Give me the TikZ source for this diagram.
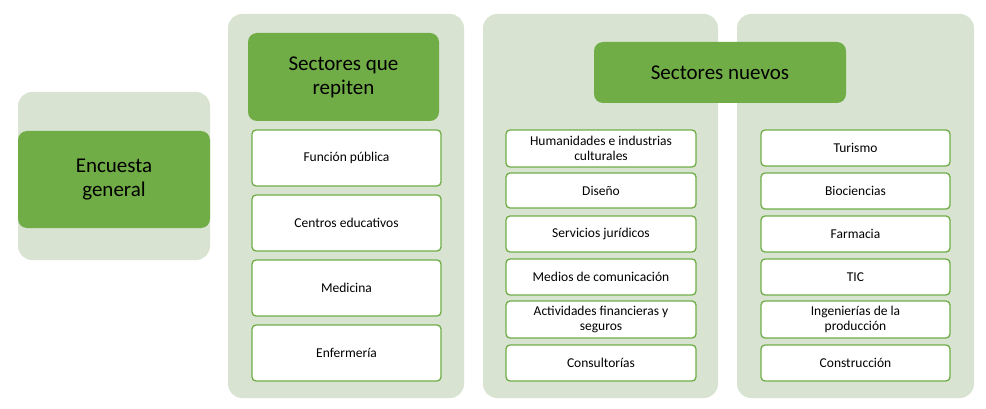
\documentclass[tikz,border=0pt]{standalone}
\usepackage{fontspec}
\setmainfont{Carlito}
\definecolor{bgg}{HTML}{D8E3D1}
\definecolor{gg}{HTML}{70AD47}
\begin{document}
\begin{tikzpicture}[x=1pt,y=-1pt,
  panel/.style={fill=bgg,draw=none,rounded corners=14pt},
  head/.style={fill=gg,draw=none,rounded corners=9pt,font=\fontsize{21}{24}\selectfont,align=center},
  item/.style={fill=white,draw=gg,line width=1.3pt,rounded corners=4pt,font=\fontsize{13.5}{15}\selectfont,align=center}]
\useasboundingbox (0,0) rectangle (986,409);
\fill[panel] (18,92) rectangle (210,260);
\fill[panel] (228,14) rectangle (464,398);
\fill[panel] (483,14) rectangle (718,398);
\fill[panel] (737,14) rectangle (974,398);
\node[head,minimum width=192pt,minimum height=97pt] (eg) at (114,179.5) {Encuesta\\general};
\node[head,minimum width=191pt,minimum height=88pt] (sr) at (343.5,77) {Sectores que\\repiten};
\node[head,minimum width=252pt,minimum height=61pt] (sn) at (720,72.5) {Sectores nuevos};
\foreach \n/\t/\a/\b in {r1/Función pública/130/186, r2/Centros educativos/195/251, r3/Medicina/260/316, r4/Enfermería/325/381}
  \node[item,minimum width=189pt,minimum height={\b-\a}] (\n) at (346.5,{(\a+\b)/2}) {\t};
\foreach \n/\t/\a/\b in {a1/{Humanidades e industrias\\culturales}/130/167, a2/Diseño/173/208, a3/Servicios jurídicos/216/252, a4/Medios de comunicación/259/295, a5/{Actividades financieras y\\seguros}/301/338, a6/Consultorías/345/381}
  \node[item,minimum width=190pt,minimum height={\b-\a}] (\n) at (601,{(\a+\b)/2}) {\t};
\foreach \n/\t/\a/\b in {b1/Turismo/130/166, b2/Biociencias/173/209, b3/Farmacia/216/252, b4/TIC/259/295, b5/{Ingenierías de la\\producción}/301/338, b6/Construcción/345/381}
  \node[item,minimum width=189pt,minimum height={\b-\a}] (\n) at (855.5,{(\a+\b)/2}) {\t};
\end{tikzpicture}
\end{document}
